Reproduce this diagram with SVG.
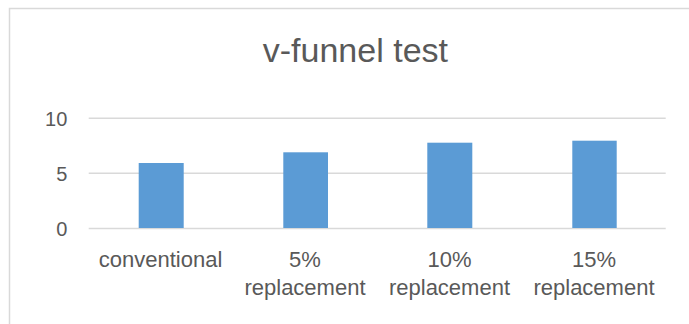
<svg xmlns="http://www.w3.org/2000/svg" width="689" height="324" viewBox="0 0 689 324">
<style>
.t{font-family:"Liberation Sans",Arial,sans-serif;fill:#595959}
.grid{stroke:#D9D9D9;stroke-width:1.5}
.bar{fill:#5B9BD5}
</style>
<rect x="0" y="0" width="689" height="324" fill="#fff"/>
<path d="M9.5 330 V8.5 H689" fill="none" stroke="#D9D9D9" stroke-width="1.5"/>
<text class="t" x="355.4" y="62" font-size="34" text-anchor="middle">v-funnel test</text>
<g id="gridlines">
<line class="grid" x1="88.7" y1="118.3" x2="665.7" y2="118.3"/>
<line class="grid" x1="88.7" y1="173.3" x2="665.7" y2="173.3"/>
<line class="grid" x1="88.7" y1="228.5" x2="665.7" y2="228.5"/>
</g>
<g id="yaxis" class="t" font-size="20" text-anchor="end">
<text x="67.3" y="125.7">10</text>
<text x="67.3" y="180.7">5</text>
<text x="67.3" y="235.7">0</text>
</g>
<g id="bar-conventional"><rect class="bar" x="138.7" y="163" width="45" height="65"/></g>
<g id="bar-5"><rect class="bar" x="283.3" y="152.3" width="44.7" height="75.7"/></g>
<g id="bar-10"><rect class="bar" x="427.3" y="142.7" width="45" height="85.3"/></g>
<g id="bar-15"><rect class="bar" x="572.3" y="140.7" width="44.4" height="87.3"/></g>
<g id="xaxis" class="t" font-size="22" text-anchor="middle">
<text x="160.6" y="266.5">conventional</text>
<text x="305" y="266.5">5%</text>
<text x="305" y="295">replacement</text>
<text x="449.5" y="266.5">10%</text>
<text x="449.5" y="295">replacement</text>
<text x="594" y="266.5">15%</text>
<text x="594" y="295">replacement</text>
</g>
</svg>
